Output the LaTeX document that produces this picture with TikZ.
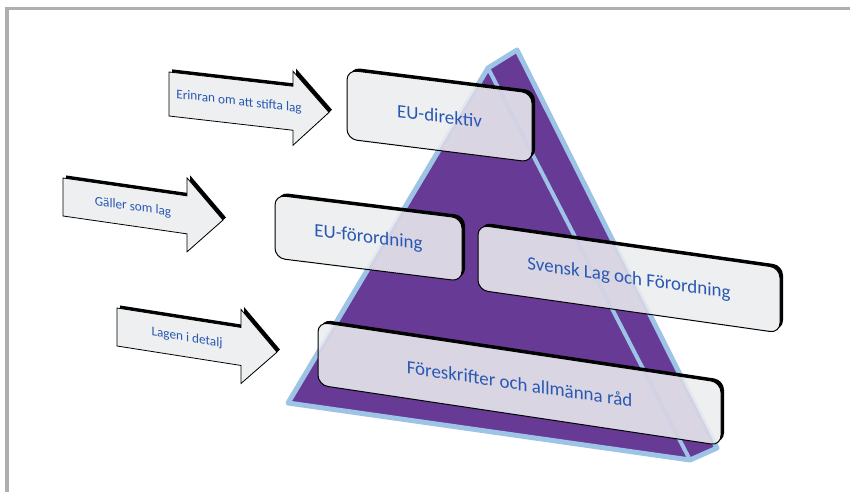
\documentclass[tikz,border=0pt]{standalone}
\usepackage{fontspec}
\setmainfont{Carlito}

\definecolor{pyrpurple}{RGB}{103,58,150}
\definecolor{pyredge}{RGB}{157,195,230}
\definecolor{boxgray}{RGB}{237,239,240}
\definecolor{textblue}{RGB}{41,88,179}
\definecolor{framegray}{RGB}{175,175,175}

\tikzset{
  boxtext/.style={text=textblue, font=\fontsize{19}{22}\selectfont, inner sep=0pt},
  arrowtext/.style={text=textblue, font=\fontsize{13.3}{16}\selectfont, inner sep=0pt},
}

% the pyramid, also redrawn faintly inside every box
\newcommand{\pyramid}[1]{%
  \fill[pyrpurple,#1] (517,50) -- (717,448) -- (690,460) -- (288,403) -- (488,68) -- cycle;
  \draw[pyredge, line width=5, line join=round,#1] (517,50) -- (717,448) -- (690,460) -- (288,403) -- (488,68) -- cycle;
  \draw[pyredge, line width=4,#1] (488,68) -- (690,460);}

% name, left, top, width, height, slope, text
\newcommand{\lawbox}[7]{%
  \begin{scope}[shift={(#2,#3)}, yslant=-#6]
    \fill[black, shift={(3,-3)}, rounded corners=10] (0,0) rectangle (#4,#5);
    \fill[boxgray, rounded corners=10] (0,0) rectangle (#4,#5);
    \begin{scope}
      \clip[rounded corners=10] (0,0) rectangle (#4,#5);
      \pyramid{reset cm, opacity=0.14}
    \end{scope}
    \draw[line width=1, rounded corners=10] (0,0) rectangle (#4,#5);
    \node[boxtext, transform shape] (#1) at ({#4/2},{#5/2}) {#7};
  \end{scope}}

% name, left, middle, half height, slope, text
\newcommand{\lawarrow}[6]{%
  \begin{scope}[shift={(#2,#3)}, yslant=-#5]
    \fill[black, shift={(3,-3)}] (0,-#4) -- (124,-#4) -- (124,-37) -- (160,0) -- (124,37) -- (124,#4) -- (0,#4) -- cycle;
    \filldraw[fill=boxgray, line width=0.8] (0,-#4) -- (124,-#4) -- (124,-37) -- (160,0) -- (124,37) -- (124,#4) -- (0,#4) -- cycle;
    \node[arrowtext, transform shape] (#1) at (70,0) {#6};
  \end{scope}}

\begin{document}
\begin{tikzpicture}[x=1bp, y=-1bp]
  \useasboundingbox (0,0) rectangle (850,492);
  \draw[framegray, line width=3.5] (7,492) -- (7,8.5) -- (850,8.5);

  \pyramid{}

  \lawarrow{erinran}{169}{94}{22}{0.115}{Erinran om att stifta lag}
  \lawarrow{galler}{63}{197}{19}{0.144}{Gäller som lag}
  \lawarrow{detalj}{117}{327}{19}{0.157}{Lagen i detalj}

  \lawbox{direktiv}{347}{70}{185}{69}{0.125}{EU-direktiv}
  \lawbox{forordning}{275}{195}{187}{63}{0.124}{EU-förordning}
  \lawbox{svensk}{478}{225}{302}{65}{0.142}{Svensk Lag och Förordning}
  \lawbox{foreskrifter}{318}{322}{403}{63}{0.15}{Föreskrifter och allmänna råd}
\end{tikzpicture}
\end{document}
